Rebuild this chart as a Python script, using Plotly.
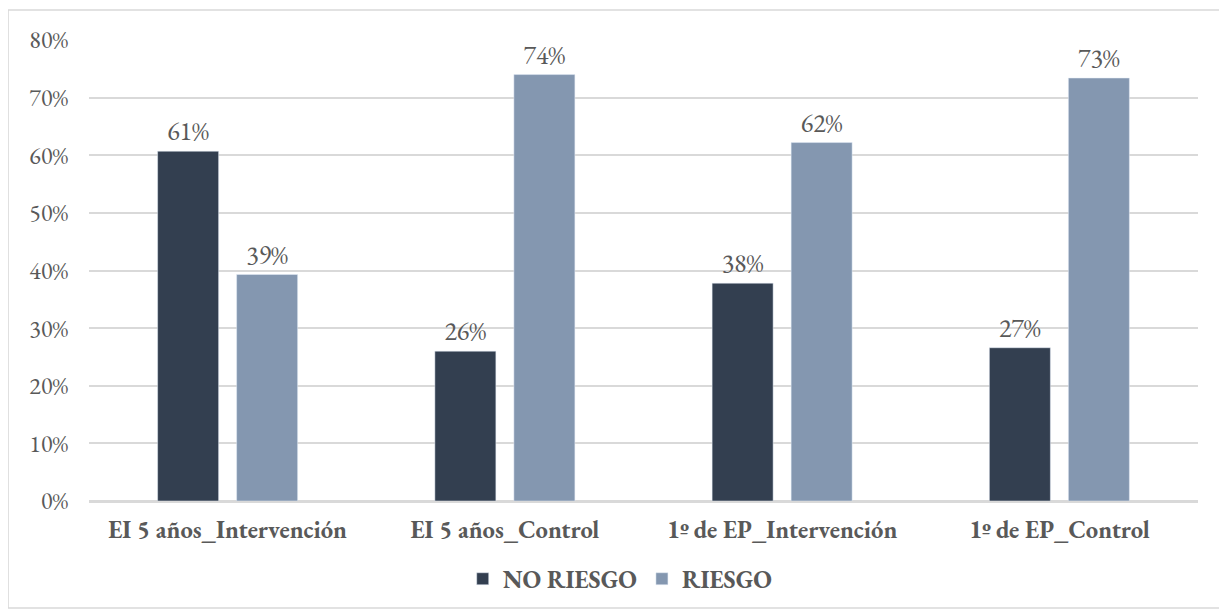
import plotly.graph_objects as go

# categorías y valores (%)
categorias = ["EI 5 años_Intervención", "EI 5 años_Control", "1º de EP_Intervención", "1º de EP_Control"]
no_riesgo = [60.7, 26.0, 37.8, 26.6]
riesgo = [39.3, 74.0, 62.2, 73.4]
ticks_y = [0, 10, 20, 30, 40, 50, 60, 70, 80]
ticks_txt = [f"{v}%" for v in ticks_y]

FUENTE = "Garamond, 'EB Garamond', 'Liberation Serif', serif"
GRIS = "#595959"

fig = go.Figure()
fig.add_trace(go.Bar(
    x=categorias, y=no_riesgo, name="<b>NO RIESGO</b>",
    marker_color="#333f50",
    text=[f"{round(v)}%" for v in no_riesgo], textposition="outside",
    textfont=dict(size=26, color=GRIS, family=FUENTE), cliponaxis=False,
))
fig.add_trace(go.Bar(
    x=categorias, y=riesgo, name="<b>RIESGO</b>",
    marker_color="#8497b0",
    text=[f"{round(v)}%" for v in riesgo], textposition="outside",
    textfont=dict(size=26, color=GRIS, family=FUENTE), cliponaxis=False,
))

# la página añade 8px de margen al cuerpo, se compensa aquí
fig.update_layout(
    width=1227, height=611,
    margin=dict(l=81, r=37, t=32, b=118, autoexpand=False),
    paper_bgcolor="white", plot_bgcolor="white",
    font=dict(family=FUENTE, color=GRIS, size=22),
    barmode="group", bargap=0.43, bargroupgap=0.228,
    showlegend=True, uniformtext=dict(mode=False),
    legend=dict(orientation="h", x=0.479, xanchor="center", y=-0.12, yanchor="top",
                font=dict(size=24.5, color=GRIS, family=FUENTE), traceorder="normal"),
    shapes=[dict(type="rect", xref="paper", yref="paper",
                 x0=-0.073, x1=1.0253, y0=-0.232, y1=1.065,
                 line=dict(color="#d9d9d9", width=1.5), fillcolor="rgba(0,0,0,0)", layer="below")],
)
fig.update_yaxes(range=[0, 80], tickvals=ticks_y, ticktext=ticks_txt,
                 showgrid=True, gridcolor="#d9d9d9", gridwidth=1.5,
                 zeroline=True, zerolinecolor="#d9d9d9", zerolinewidth=1.5,
                 ticks="", ticklabelstandoff=20, tickfont=dict(size=24, color=GRIS))
fig.update_xaxes(showline=True, linecolor="#d9d9d9", linewidth=1.5, ticks="",
                 tickvals=categorias, ticktext=[f"<b>{c}</b>" for c in categorias],
                 tickfont=dict(size=24.5, color=GRIS), ticklabelstandoff=6)

fig.write_html("out.html")
